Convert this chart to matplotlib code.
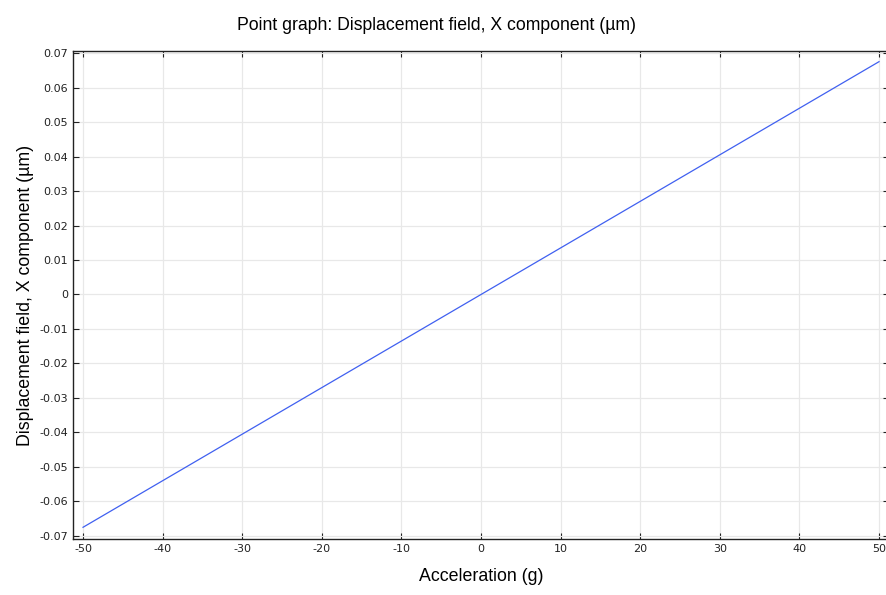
import matplotlib.pyplot as plt

# Point graph data: acceleration (g) vs displacement X (um)
accel = [-50, -40, -30, -20, -10, 0, 10, 20, 30, 40, 50]
disp_x = [-0.0675, -0.054, -0.0405, -0.027, -0.0135, 0.0, 0.0135, 0.027, 0.0405, 0.054, 0.0675]

xticks = [-50, -40, -30, -20, -10, 0, 10, 20, 30, 40, 50]
yticks = [-0.07, -0.06, -0.05, -0.04, -0.03, -0.02, -0.01, 0, 0.01, 0.02, 0.03, 0.04, 0.05, 0.06, 0.07]
ylabels = ["-0.07", "-0.06", "-0.05", "-0.04", "-0.03", "-0.02", "-0.01", "0",
           "0.01", "0.02", "0.03", "0.04", "0.05", "0.06", "0.07"]

plt.rcParams['axes.unicode_minus'] = False

fig = plt.figure(figsize=(8.87, 5.95), dpi=100)
# right spine sits just past the image edge, like the original screenshot
ax = fig.add_axes([0.0823, 0.0941, 0.9200, 0.8202])

ax.plot(accel, disp_x, color='#4060f0', linewidth=0.9)

ax.set_xlim(-51.26, 51.26)
ax.set_ylim(-0.0709, 0.0706)
ax.set_xticks(xticks)
ax.set_yticks(yticks)
ax.set_yticklabels(ylabels)
ax.tick_params(direction='in', length=4, labelsize=8, top=True, right=True,
               width=0.8, colors='#222222')
ax.grid(True, color='#e8e8e8', linewidth=0.9)

for s in ax.spines.values():
    s.set_linewidth(1.0)
    s.set_color('#222222')

ax.set_xlabel("Acceleration (g)", fontsize=12.8, family='Liberation Sans', labelpad=10)
ax.set_ylabel("Displacement field, X component (µm)", fontsize=12.8,
              family='Liberation Sans', labelpad=4)
fig.text(0.492, 0.957, "Point graph: Displacement field, X component (µm)",
         fontsize=12.7, family='Liberation Sans', ha='center', va='center')

fig.savefig("out.png", dpi=100)
